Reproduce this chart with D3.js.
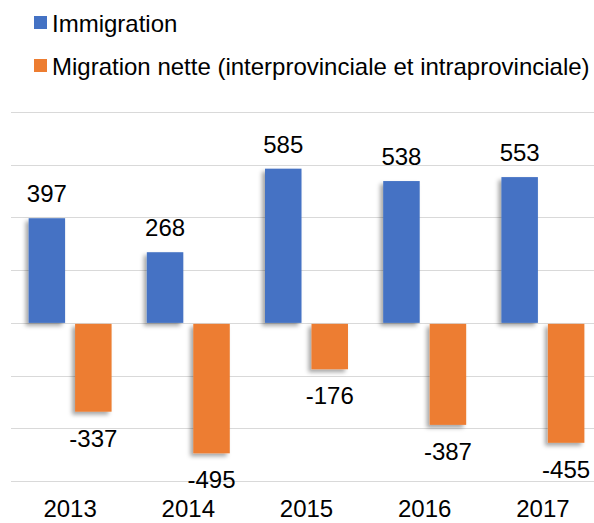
<!DOCTYPE html>
<html>
<head>
<meta charset="utf-8">
<script src="https://cdn.jsdelivr.net/npm/d3@7"></script>
<style>
  body { margin: 0; background: #fff; }
  svg { display: block; font-family: "Liberation Sans", Arial, sans-serif; }
</style>
</head>
<body>
<div id="chart"></div>
<script>
// data
const years = ['2013', '2014', '2015', '2016', '2017'];
const immigration = [397, 268, 585, 538, 553];
const migrationNette = [-337, -495, -176, -387, -455];
const seriesNames = ['Immigration', 'Migration nette (interprovinciale et intraprovinciale)'];
const gridTicks = [-600, -400, -200, 0, 200, 400, 600, 800];

const W = 594, H = 523;
const colors = ['#4472C4', '#ED7D31'];
const fontSize = 24;

const svg = d3.select('#chart').append('svg')
  .attr('width', W)
  .attr('height', H);

// soft drop shadow like the office chart
const defs = svg.append('defs');
defs.append('filter')
  .attr('id', 'shadow')
  .attr('x', '-30%').attr('y', '-10%')
  .attr('width', '160%').attr('height', '130%')
  .append('feDropShadow')
  .attr('dx', -3).attr('dy', 3)
  .attr('stdDeviation', 2.2)
  .attr('flood-color', '#000')
  .attr('flood-opacity', 0.35);

const x0 = d3.scaleBand().domain(years).range([11, 602]);
const x1 = d3.scaleBand().domain([0, 1]).range([0, x0.bandwidth()])
  .paddingInner(0.215).paddingOuter(0.379);
const y = d3.scaleLinear().domain([-600, 800]).range([481, 112]);

// gridlines
svg.append('g').selectAll('line')
  .data(gridTicks)
  .join('line')
  .attr('x1', 11).attr('x2', 602)
  .attr('y1', d => Math.round(y(d)) + 0.5)
  .attr('y2', d => Math.round(y(d)) + 0.5)
  .attr('stroke', '#D9D9D9')
  .attr('stroke-width', 1.2);

const rows = years.map((yr, i) => ({ year: yr, vals: [immigration[i], migrationNette[i]] }));

const groups = svg.append('g').selectAll('g')
  .data(rows)
  .join('g')
  .attr('transform', d => `translate(${x0(d.year)},0)`);

const bars = groups.selectAll('g')
  .data(d => d.vals.map((v, k) => ({ k, v })))
  .join('g');

bars.append('rect')
  .attr('x', d => x1(d.k))
  .attr('width', x1.bandwidth())
  .attr('y', d => d.v >= 0 ? y(d.v) : y(0) + 1)
  .attr('height', d => Math.abs(y(d.v) - y(0)) - (d.v >= 0 ? 0 : 1))
  .attr('fill', d => colors[d.k])
  .attr('filter', 'url(#shadow)');

bars.append('text')
  .attr('x', d => x1(d.k) + x1.bandwidth() / 2)
  .attr('y', d => d.v >= 0 ? y(d.v) - 16 : y(d.v) + 35)
  .attr('text-anchor', 'middle')
  .attr('font-size', fontSize)
  .attr('fill', '#000')
  .text(d => d.v);

// category labels
svg.append('g').selectAll('text')
  .data(years)
  .join('text')
  .attr('x', d => x0(d) + x0.bandwidth() / 2)
  .attr('y', 517)
  .attr('text-anchor', 'middle')
  .attr('font-size', fontSize)
  .attr('fill', '#000')
  .text(d => d);

// legend
const legend = svg.append('g').selectAll('g')
  .data(seriesNames)
  .join('g')
  .attr('transform', (d, i) => `translate(34,${16 + i * 43})`);

legend.append('rect')
  .attr('width', 13).attr('height', 13)
  .attr('fill', (d, i) => colors[i]);

legend.append('text')
  .attr('x', 18)
  .attr('y', 16)
  .attr('font-size', fontSize)
  .attr('fill', '#000')
  .text(d => d);
</script>
</body>
</html>
